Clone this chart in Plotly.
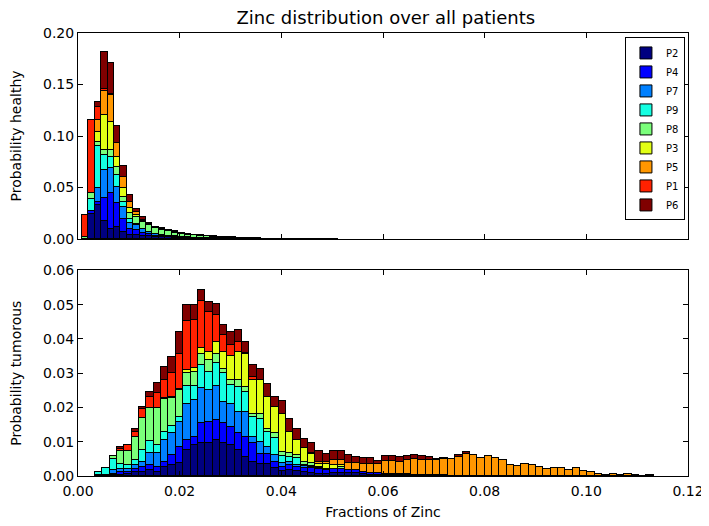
import numpy as np
import plotly.graph_objects as go

# patients in stacking order (bottom -> top), colours from matplotlib "jet"
patients = ["P2", "P4", "P7", "P9", "P8", "P3", "P5", "P1", "P6"]
colors = ["#000080", "#0000ff", "#0080ff", "#15ffe2", "#7bff7b",
          "#e2ff15", "#ff9700", "#ff2100", "#800000"]

# healthy tissue histogram (first bin edge and width of the bins)
h_start, h_width = 0.00079, 0.00126
h_P2 = [0, .024, .033, .017, .010, .012, .0068, .004, .004, .003, .0025, .002, .0017, .0015,
        .0012, .001, .0008, .0007, .0006, .0005, .0004, .0004, .0003, .0003, .0002, .0002,
        .0002, .0001, .0001, .0001, .0001, .0001, .0001, .0001, .0001, .0001, 0, 0, 0, 0]
h_P4 = [0, .003, .003, .023, .035, .0225, .013, .0054, .0048, .003, .002, .0012, .001, .0008,
        .0006, .0005, .0004, .0003, .0003, .0002, .0002, .0001, .0001, .0001, .0001, 0,
        0, 0, 0, 0, 0, 0, 0, 0, 0, 0, 0, 0, 0, 0]
h_P7 = [0, 0, .014, .027, .024, .016, .0113, .0065, .0048, .004, .0025, .0015, .0012, .001,
        .0008, .0006, .0005, .0004, .0003, .0003, .0002, .0002, .0002, .0001, .0001, .0001,
        .0001, .0001, 0, 0, 0, 0, 0, 0, 0, 0, 0, 0, 0, 0]
h_P9 = [0, .012, .040, .0145, .011, .012, .005, .0032, .001, 0, 0, 0, 0, 0,
        0, 0, 0, 0, 0, 0, 0, 0, 0, 0, 0, 0, 0, 0, 0, 0, 0, 0, 0, 0, 0, 0, 0, 0, 0, 0]
h_P8 = [.002, .006, .004, .005, .0065, .007, .005, .0064, .0064, .0064, .0065, .0055, .005, .0043,
        .0037, .003, .0025, .0021, .0017, .0015, .0013, .0011, .0009, .0008, .0006, .0005,
        .0004, .0004, .0003, .0003, .0002, .0002, .0002, .0002, .0001, .0001, .0001, .0001, .0001, .0001]
h_P3 = [0, 0, .010, .034, .027, .010, .008, .0042, .0023, .001, 0, 0, 0, 0,
        0, 0, 0, 0, 0, 0, 0, 0, 0, 0, 0, 0, 0, 0, 0, 0, 0, 0, 0, 0, 0, 0, 0, 0, 0, 0]
h_P5 = [0, 0, .012, .023, .026, .0136, .0113, .0065, .0032, .0015, .001, .0008, .0007, .0006,
        .0005, .0004, .0004, .0003, .0003, .0002, .0002, .0001, .0001, .0001, .0001, .0001,
        0, 0, 0, 0, 0, 0, 0, 0, 0, 0, 0, 0, 0, 0]
h_P1 = [.0215, .071, .012, .0025, .001, 0, 0, 0, 0, 0, 0, 0, 0, 0,
        0, 0, 0, 0, 0, 0, 0, 0, 0, 0, 0, 0, 0, 0, 0, 0, 0, 0, 0, 0, 0, 0, 0, 0, 0, 0]
h_P6 = [0, 0, .005, .036, .030, .017, .0103, .0064, .0026, .002, .0013, .001, .0009, .0008,
        .0007, .0005, .0004, .0004, .0003, .0003, .0002, .0002, .0002, .0001, .0001, .0001,
        .0001, .0001, 0, 0, 0, 0, 0, 0, 0, 0, 0, 0, 0, 0]

# tumorous tissue histogram
t_start, t_width = 0.00334, 0.001446
t_P2 = [0, 0, .0003, .0003, .0004, .001, .0011, .0016, .001, .0026, .0031, .0036, .0074, .0089,
        .0094, .0094, .0103, .0094, .0089, .0074, .0055, .0041, .0033, .0035, .0021, .0012,
        .0015, .0012, .001, .0008, .0006, .0005, .0008, .0008, .0007, .0007, .0004, .0003,
        .0003, .0003, .0002, .0002, .0002, .0003, .0002, .0001, .0001, .0001]
t_P4 = [0, 0, .0003, .0006, .0006, .0008, .0015, .0015, .0016, .0014, .0029, .0048, .0031, .0024,
        .0058, .0063, .0059, .0058, .0053, .0049, .0058, .0053, .003, .0029, .0019, .0014,
        .0016, .0012, .0012, .0014, .0012, .001, .0012, .0012, .001, .001, .0007, .0005,
        .0004, .0003, .0002, .0002, .0002, 0, 0, 0, 0, 0]
t_P7 = [.0002, .0003, .001, .0011, .0009, .0014, .0014, .0034, .0039, .0063, .0063, .0073, .0105, .0107,
        .0105, .0092, .0099, .0063, .0068, .0063, .0073, .0019, .0035, .002, .002, .001,
        .001, .0007, .0006, .0004, .0003, 0, 0, 0, 0, 0, 0, 0, 0, 0, 0, 0, 0, 0, 0, 0, 0, 0]
t_P9 = [.0009, .0018, .0032, .0013, .0013, .0013, .0034, .0036, .0024, .0025, .0022, .0015, .0051, .0041,
        .0065, .0054, .0068, .0083, .0054, .0073, .0058, .0058, .0068, .0044, .0051, .0021,
        .0014, .0019, .0003, .0002, 0, 0, 0, 0, 0, 0, 0, 0, 0, 0, 0, 0, 0, 0, 0, 0, 0, 0]
t_P8 = [0, 0, .001, .0038, .004, .0068, .0093, .0097, .0109, .0095, .008, .0077, .0038, .0042,
        .0034, .0034, .0027, .0014, .0014, .0019, .0015, .001, .0015, .0007, .0012, .0013,
        .001, .001, .0009, .0008, .0005, .0005, 0, .0005, 0, 0, 0, 0, 0, 0, 0, 0, 0, 0, 0, 0, 0, 0]
t_P3 = [0, 0, 0, 0, 0, 0, 0, 0, 0, .0004, .0005, .0003, .0008, .0012,
        .0015, .0024, .0034, .0049, .007, .0083, .0095, .0097, .0097, .0094, .0076, .0111,
        .0063, .0045, .0039, .0027, .0008, .0013, .001, .0005, 0, 0, 0, 0, 0, 0, 0, 0, 0, 0, 0, 0, 0, 0]
t_P5 = [0, 0, 0, 0, 0, 0, 0, 0, 0, 0, 0, 0, 0, 0,
        0, 0, 0, 0, 0, 0, 0, 0, 0, 0, 0, 0, 0, 0, 0, .0003, .0006, .0007, .0015, .0015,
        .0019, .0019, .0024, .0027, .0027, .0036, .0038, .0037, .004, .0045, .0043, .0044, .0043, .0046,
        .0048, .0055, .0062, .0059, .005, .0057, .0052, .0045, .003, .0027, .0035, .003, .0024, .0019,
        .0023, .0023, .0016, .0021, .0014, .001, .0006, .0001, .0004, .0001, .0005, .0001, 0, .0001]
t_P1 = [0, 0, 0, .0006, .0017, .0015, .0027, .0032, .0042, .0051, .0068, .0104, .0143, .0138,
        .0139, .0117, .0078, .0049, .0032, .0029, .0005, .001, 0, 0, 0, 0, 0, 0, 0, 0,
        0, 0, 0, 0, 0, 0, 0, 0, 0, 0, 0, 0, 0, 0, 0, 0, 0, 0]
t_P6 = [0, 0, 0, .0005, 0, .0008, .0007, .0014, .0029, .0039, .0048, .0062, .0047, .0044,
        .0033, .0029, .0032, .0029, .0039, .0034, .0031, .0034, .0034, .0038, .0029, .0037,
        .0036, .003, .0029, .003, .0032, .0024, .0027, .0027, .0024, .0017, .0015, .0015,
        .0008, .0015, .0015, .0014, .0013, .0012, .0012, .001, .0004, .0003, .0, .0005, .0008]

healthy = [h_P2, h_P4, h_P7, h_P9, h_P8, h_P3, h_P5, h_P1, h_P6]
tumorous = [t_P2, t_P4, t_P7, t_P9, t_P8, t_P3, t_P5, t_P1, t_P6]


def bin_centers(start, width, n):
    return start + width * (np.arange(n) + 0.5)


fig = go.Figure()

for name, col, vals in zip(patients, colors, healthy):
    fig.add_trace(go.Bar(
        x=bin_centers(h_start, h_width, len(vals)), y=vals, width=h_width,
        name=name, marker=dict(color=col, line=dict(color="black", width=1)),
        xaxis="x", yaxis="y", legendgroup=name,
    ))

for name, col, vals in zip(patients, colors, tumorous):
    fig.add_trace(go.Bar(
        x=bin_centers(t_start, t_width, len(vals)), y=vals, width=t_width,
        name=name, marker=dict(color=col, line=dict(color="black", width=1)),
        xaxis="x2", yaxis="y2", legendgroup=name, showlegend=False,
    ))

axis_style = dict(
    showline=True, linecolor="black", linewidth=1, mirror="ticks",
    ticks="inside", ticklen=5, tickcolor="black", showgrid=False, zeroline=False,
    tickfont=dict(size=14, color="black"), automargin=False,
)

# the page body has an 8px margin, so the figure is 8px smaller than the window
fig.update_layout(
    width=701, height=518,
    barmode="stack", bargap=0,
    paper_bgcolor="white", plot_bgcolor="white",
    font=dict(family="DejaVu Sans", color="black"),
    margin=dict(l=70, r=21, t=25, b=50),
    title=dict(text="Zinc distribution over all patients", x=0.539, xanchor="center",
               yref="container", y=1 - 10 / 518, yanchor="middle", font=dict(size=18)),
    xaxis=dict(range=[0, 0.12], dtick=0.02, domain=[0, 1], anchor="y",
               showticklabels=False, **axis_style),
    yaxis=dict(range=[0, 0.20], dtick=0.05, tickformat=".2f", domain=[0.535, 1],
               anchor="x", title=dict(text="Probability healthy", font=dict(size=14), standoff=23),
               **axis_style),
    xaxis2=dict(range=[0, 0.12], dtick=0.02, tickformat=".2f", domain=[0, 1], anchor="y2",
                ticklabelstandoff=2,
                title=dict(text="Fractions of Zinc", font=dict(size=14), standoff=9),
                **axis_style),
    yaxis2=dict(range=[0, 0.06], dtick=0.01, tickformat=".2f", domain=[0, 0.464],
                anchor="x2", title=dict(text="Probability tumorous", font=dict(size=14), standoff=23),
                **axis_style),
    legend=dict(x=0.995, y=0.99, xanchor="right", yanchor="top", traceorder="normal",
                bgcolor="white", bordercolor="black", borderwidth=1,
                font=dict(size=10), tracegroupgap=0, itemwidth=30),
    showlegend=True,
)

fig.write_html("out.html")
